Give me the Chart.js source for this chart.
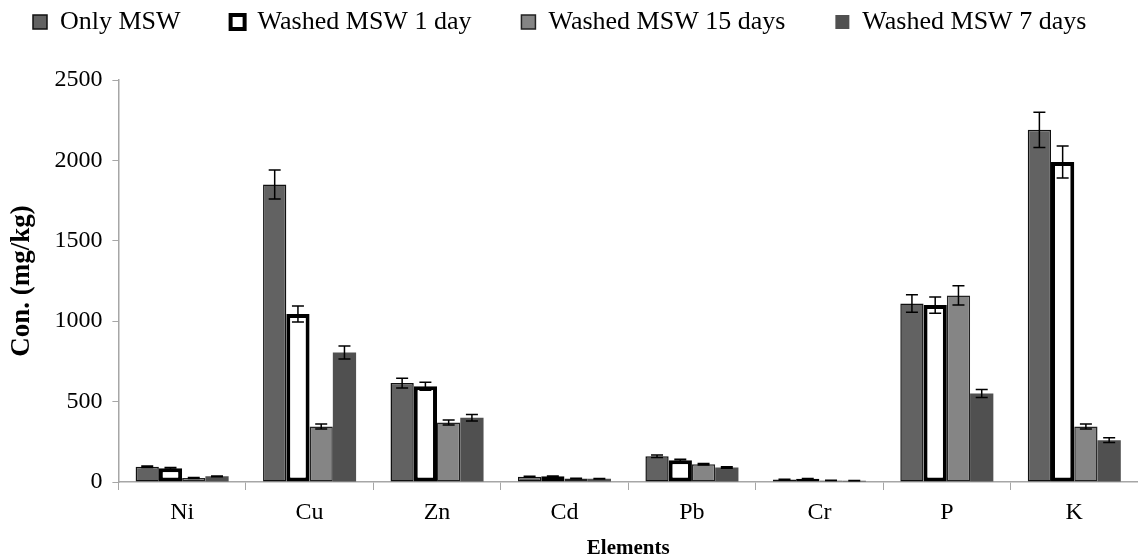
<!DOCTYPE html>
<html>
<head>
<meta charset="utf-8">
<script src="https://cdn.jsdelivr.net/npm/chart.js@4/dist/chart.umd.min.js"></script>
<style>
	html, body { margin: 0; padding: 0; background: #fff; }
	#wrap { width: 1138px; height: 560px; position: relative; }
</style>
</head>
<body>
<div id="wrap"><canvas id="myChart"></canvas></div>
<script>
// categories and values
const elements = ["Ni", "Cu", "Zn", "Cd", "Pb", "Cr", "P", "K"];

const onlyMSW = [95, 1850, 615, 32, 160, 15, 1110, 2190];
const washed1 = [85, 1045, 595, 35, 135, 20, 1100, 1990];
const washed15 = [25, 345, 370, 22, 110, 10, 1160, 345];
const washed7 = [35, 805, 400, 20, 90, 8, 550, 260];

const errOnly = [5, 90, 30, 3, 8, 2, 55, 110];
const err1 = [5, 50, 25, 3, 6, 2, 50, 100];
const err15 = [3, 15, 15, 2, 5, 1, 60, 15];
const err7 = [3, 40, 20, 2, 5, 1, 25, 15];

const yTicks = [0, 500, 1000, 1500, 2000, 2500];

const serif = "'Liberation Serif', 'Times New Roman', serif";

// error bars drawn from the bar elements and the y scale
const errorBars = {
	id: "errorBars",
	afterDatasetsDraw(chart) {
		const ctx = chart.ctx;
		const y = chart.scales.y;
		ctx.save();
		ctx.strokeStyle = "#000";
		ctx.lineWidth = 1.5;
		chart.data.datasets.forEach((ds, i) => {
			const meta = chart.getDatasetMeta(i);
			meta.data.forEach((bar, j) => {
				const v = ds.data[j];
				const e = ds.errors[j];
				const top = y.getPixelForValue(v + e);
				const bot = y.getPixelForValue(v - e);
				const cx = bar.x;
				const cap = 6;
				ctx.beginPath();
				ctx.moveTo(cx, top);
				ctx.lineTo(cx, bot);
				ctx.moveTo(cx - cap, top);
				ctx.lineTo(cx + cap, top);
				ctx.moveTo(cx - cap, bot);
				ctx.lineTo(cx + cap, bot);
				ctx.stroke();
			});
		});
		ctx.restore();
	}
};

// legend kept on one row starting near the left edge, more room under it
const legendGap = {
	id: "legendGap",
	beforeInit(chart) {
		const fit = chart.legend.fit;
		chart.legend.fit = function () {
			this.maxWidth += 200;
			fit.bind(this)();
			this.maxWidth -= 200;
			this.width = Math.min(this.width, this.maxWidth);
			this.height += 35;
		};
	},
	afterLayout(chart) {
		chart.legend.left = 33 - chart.legend.options.labels.padding;
		chart.legend.right = chart.width + 200;
	}
};

new Chart(document.getElementById("myChart"), {
	type: "bar",
	data: {
		labels: elements,
		datasets: [
			{
				label: "Only MSW",
				data: onlyMSW,
				errors: errOnly,
				backgroundColor: "#626262",
				borderColor: "#111",
				borderWidth: 1.5,
				borderSkipped: false
			},
			{
				label: "Washed MSW 1 day",
				data: washed1,
				errors: err1,
				backgroundColor: "#ffffff",
				borderColor: "#000",
				borderWidth: 4,
				borderSkipped: false
			},
			{
				label: "Washed MSW 15 days",
				data: washed15,
				errors: err15,
				backgroundColor: "#858585",
				borderColor: "#222",
				borderWidth: 1.5,
				borderSkipped: false
			},
			{
				label: "Washed MSW 7 days",
				data: washed7,
				errors: err7,
				backgroundColor: "#505050",
				borderWidth: 0
			}
		]
	},
	options: {
		responsive: true,
		maintainAspectRatio: false,
		animation: false,
		layout: { padding: { left: 2, right: 0, top: -41, bottom: -1 } },
		datasets: {
			bar: { categoryPercentage: 0.73, barPercentage: 1.0 }
		},
		plugins: {
			tooltip: { enabled: false },
			legend: {
				position: "top",
				align: "start",
				labels: {
					color: "#000",
					font: { family: serif, size: 26 },
					boxWidth: 14,
					boxHeight: 14,
					padding: 50
				}
			}
		},
		scales: {
			x: {
				grid: {
					display: true,
					drawOnChartArea: false,
					color: "#a6a6a6",
					tickLength: 8,
					offset: true
				},
				border: { color: "#a6a6a6", width: 1.5 },
				ticks: {
					color: "#000",
					font: { family: serif, size: 24 },
					padding: 8
				},
				title: {
					display: true,
					text: "Elements",
					color: "#000",
					font: { family: serif, size: 21, weight: "bold" },
					padding: { top: 1, bottom: 0 }
				}
			},
			y: {
				min: 0,
				max: 2500,
				afterBuildTicks: (axis) => {
					axis.ticks = yTicks.map(v => ({ value: v }));
				},
				grid: {
					display: true,
					drawOnChartArea: false,
					color: "#a6a6a6",
					tickLength: 6
				},
				border: { color: "#a6a6a6", width: 1.5 },
				ticks: {
					color: "#000",
					font: { family: serif, size: 24 },
					padding: 10,
					callback: (v) => String(v)
				},
				title: {
					display: true,
					text: "Con. (mg/kg)",
					color: "#000",
					font: { family: serif, size: 27, weight: "bold" },
					padding: { top: 4, bottom: 6 }
				}
			}
		}
	},
	plugins: [errorBars, legendGap]
});
</script>
</body>
</html>
